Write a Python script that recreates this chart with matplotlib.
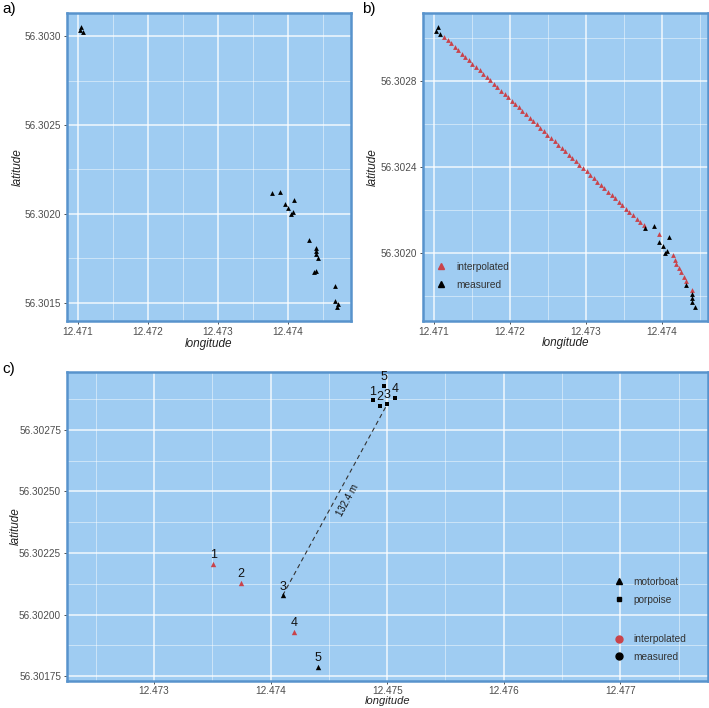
import numpy as np
import matplotlib.pyplot as plt
from matplotlib.lines import Line2D
from matplotlib.ticker import MultipleLocator, FormatStrFormatter

plt.rcParams['font.family'] = ['Liberation Sans', 'DejaVu Sans']

# measured motorboat positions (panel a; panel b uses the first 15)
meas_lon = [12.47105, 12.47103, 12.47108, 12.47378, 12.47389, 12.47396, 12.47401,
            12.47409, 12.47404, 12.47407, 12.47431, 12.47440, 12.47440, 12.47440,
            12.47443, 12.47437, 12.47440, 12.47467, 12.47467, 12.47472, 12.47471]
meas_lat = [56.303052, 56.303034, 56.303022, 56.302115, 56.302124, 56.302053, 56.302031,
            56.302075, 56.302001, 56.302008, 56.301852, 56.301807, 56.301788, 56.301773,
            56.301749, 56.301671, 56.301679, 56.301591, 56.301511, 56.301492, 56.301475]
n_b = 15

# interpolated motorboat positions (panel b)
interp_lon = [12.471132, 12.471179, 12.471226, 12.471273, 12.471320, 12.471367, 12.471413,
              12.471460, 12.471507, 12.471554, 12.471601, 12.471648, 12.471695, 12.471742,
              12.471789, 12.471836, 12.471882, 12.471929, 12.471976, 12.472023, 12.472070,
              12.472117, 12.472164, 12.472211, 12.472258, 12.472305, 12.472351, 12.472398,
              12.472445, 12.472492, 12.472539, 12.472586, 12.472633, 12.472680, 12.472727,
              12.472774, 12.472820, 12.472867, 12.472914, 12.472961, 12.473008, 12.473055,
              12.473102, 12.473149, 12.473196, 12.473243, 12.473289, 12.473336, 12.473383,
              12.473430, 12.473477, 12.473524, 12.473571, 12.473618, 12.473665, 12.473712,
              12.473758, 12.473956, 12.474141, 12.474168, 12.474190, 12.474221, 12.474251,
              12.474283, 12.474313, 12.474389]
interp_lat = [56.303008, 56.302992, 56.302977, 56.302961, 56.302945, 56.302929, 56.302914,
              56.302898, 56.302882, 56.302867, 56.302851, 56.302835, 56.302819, 56.302804,
              56.302788, 56.302772, 56.302757, 56.302741, 56.302725, 56.302710, 56.302694,
              56.302678, 56.302662, 56.302647, 56.302631, 56.302615, 56.302600, 56.302584,
              56.302568, 56.302552, 56.302537, 56.302521, 56.302505, 56.302490, 56.302474,
              56.302458, 56.302442, 56.302427, 56.302411, 56.302395, 56.302380, 56.302364,
              56.302348, 56.302332, 56.302317, 56.302301, 56.302285, 56.302270, 56.302254,
              56.302238, 56.302222, 56.302207, 56.302191, 56.302175, 56.302160, 56.302144,
              56.302128, 56.302088, 56.301988, 56.301968, 56.301949, 56.301929, 56.301910,
              56.301890, 56.301871, 56.301829]

# panel c: five matched time steps
boat_lon = [12.473509, 12.473742, 12.474103, 12.474200, 12.474408]
boat_lat = [56.302207, 56.302129, 56.302078, 56.301931, 56.301789]
boat_src = ['interpolated', 'interpolated', 'measured', 'interpolated', 'measured']
porp_lon = [12.474874, 12.474937, 12.475000, 12.475069, 12.474969]
porp_lat = [56.302870, 56.302846, 56.302854, 56.302881, 56.302929]
step_labels = ['1', '2', '3', '4', '5']
dist_label = '132.4 m'
dist_step = 2  # index of the step joined by the dashed line

RED = '#C9434B'
BG = '#9FCCF2'
EDGE = '#5893CC'
TICKC = '#4D4D4D'
src_col = {'interpolated': RED, 'measured': 'black'}


def style(ax, xmaj, ymaj, xfmt, yfmt, ylab_x, xlab_y, labsize=8.5, pad=2):
    ax.set_facecolor(BG)
    for s in ax.spines.values():
        s.set_color(EDGE)
        s.set_linewidth(1.8)
    ax.xaxis.set_major_locator(MultipleLocator(xmaj))
    ax.xaxis.set_minor_locator(MultipleLocator(xmaj / 2))
    ax.yaxis.set_major_locator(MultipleLocator(ymaj))
    ax.yaxis.set_minor_locator(MultipleLocator(ymaj / 2))
    ax.xaxis.set_major_formatter(FormatStrFormatter(xfmt))
    ax.yaxis.set_major_formatter(FormatStrFormatter(yfmt))
    ax.grid(which='major', color='white', lw=1.1, alpha=0.85)
    ax.grid(which='minor', color='white', lw=0.6, alpha=0.55)
    ax.set_axisbelow(True)
    ax.tick_params(which='major', length=2.5, width=0.6, color='#333333',
                   labelsize=7.2, labelcolor=TICKC, pad=pad)
    ax.tick_params(which='minor', length=0)
    ax.set_xlabel('longitude', fontsize=labsize, style='italic', color='#222222')
    ax.set_ylabel('latitude', fontsize=8.5, style='italic', color='#222222')
    ax.yaxis.set_label_coords(ylab_x, 0.5)
    ax.xaxis.set_label_coords(0.5, xlab_y)


fig = plt.figure(figsize=(7.09, 7.08), dpi=100)
ax_a = fig.add_axes([0.0945, 0.5466, 0.4006, 0.435])
ax_b = fig.add_axes([0.597, 0.5470, 0.4011, 0.4342])
ax_c = fig.add_axes([0.0941, 0.0386, 0.9041, 0.4364])

# a) measured track only
ax_a.scatter(meas_lon, meas_lat, marker='^', s=12, color='black', lw=0)
ax_a.margins(0.05)
style(ax_a, 0.001, 0.0005, '%.3f', '%.4f', -0.151, -0.054)

# b) measured + interpolated
ax_b.scatter(interp_lon, interp_lat, marker='^', s=12, color=RED, lw=0)
ax_b.scatter(meas_lon[:n_b], meas_lat[:n_b], marker='^', s=12, color='black', lw=0)
ax_b.margins(0.05)
style(ax_b, 0.001, 0.0004, '%.3f', '%.4f', -0.156, -0.054)
hb = [Line2D([], [], ls='none', marker='^', ms=5, color=RED),
      Line2D([], [], ls='none', marker='^', ms=5, color='black')]
ax_b.legend(hb, ['interpolated', 'measured'], loc='center left',
            bbox_to_anchor=(0.026, 0.146), frameon=False, fontsize=7.3,
            handlelength=1.0, handletextpad=1.0, labelspacing=0.75, borderpad=0,
            labelcolor='#333333')

# c) boat vs porpoise at five time steps
ax_c.set_xlim(12.47225, 12.47775)
style(ax_c, 0.001, 0.00025, '%.3f', '%.5f', -0.0697, -0.051, labsize=8, pad=1.5)
ax_c.set_xticks([12.473, 12.474, 12.475, 12.476, 12.477])
for lo, la, src, lab in zip(boat_lon, boat_lat, boat_src, step_labels):
    ax_c.scatter(lo, la, marker='^', s=15, color=src_col[src], lw=0, zorder=3)
    ax_c.annotate(lab, (lo, la), xytext=(0, 2), textcoords='offset points',
                  ha='center', va='bottom', fontsize=9, color='#111111')
ax_c.scatter(porp_lon, porp_lat, marker='s', s=10, color='black', lw=0, zorder=3)
for lo, la, lab in zip(porp_lon, porp_lat, step_labels):
    ax_c.annotate(lab, (lo, la), xytext=(0, 2), textcoords='offset points',
                  ha='center', va='bottom', fontsize=9, color='#111111')
ax_c.margins(y=0.05)

x0, y0 = boat_lon[dist_step], boat_lat[dist_step]
x1, y1 = porp_lon[dist_step], porp_lat[dist_step]
ax_c.plot([x0, x1], [y0, y1], ls=(0, (4, 3)), color='#333333', lw=0.8, zorder=2)
fig.canvas.draw()
p0 = ax_c.transData.transform((x0, y0))
p1 = ax_c.transData.transform((x1, y1))
ang = np.degrees(np.arctan2(p1[1] - p0[1], p1[0] - p0[0]))
ax_c.annotate(dist_label, ((x0 + x1) / 2, (y0 + y1) / 2), xytext=(9, 0),
              textcoords='offset points', rotation=ang, rotation_mode='anchor',
              ha='center', va='center', fontsize=7, color='#111111')

h1 = [Line2D([], [], ls='none', marker='^', ms=4, color='black'),
      Line2D([], [], ls='none', marker='s', ms=3.5, color='black')]
h2 = [Line2D([], [], ls='none', marker='o', ms=5, color=RED),
      Line2D([], [], ls='none', marker='o', ms=5, color='black')]
leg1 = ax_c.legend(h1, ['motorboat', 'porpoise'], loc='center left',
                   bbox_to_anchor=(0.845, 0.291), frameon=False, fontsize=7.3,
                   handlelength=1.0, handletextpad=1.0, labelspacing=0.75, borderpad=0,
                   labelcolor='#333333')
ax_c.add_artist(leg1)
ax_c.legend(h2, ['interpolated', 'measured'], loc='center left',
            bbox_to_anchor=(0.845, 0.105), frameon=False, fontsize=7.3,
            handlelength=1.0, handletextpad=1.0, labelspacing=0.75, borderpad=0,
            labelcolor='#333333')

fig.text(0.003, 0.997, 'a)', fontsize=11, va='top')
fig.text(0.511, 0.997, 'b)', fontsize=11, va='top')
fig.text(0.003, 0.489, 'c)', fontsize=11, va='top')

fig.savefig('out.png', dpi=100)
